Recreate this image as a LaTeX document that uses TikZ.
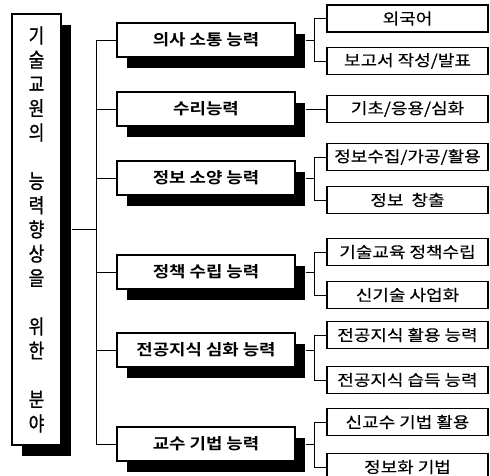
\documentclass[tikz,border=0pt]{standalone}
\usepackage{fontspec}
\setmainfont{Noto Sans CJK KR}
\newfontfamily\krnarrow[FakeStretch=0.85,FakeBold=1.0]{Noto Sans CJK KR}
\newfontfamily\krwide[FakeStretch=1.16,FakeBold=0.15]{Noto Sans CJK KR}
\newfontfamily\krwidebold[FakeStretch=1.15]{Noto Sans CJK KR Bold}
\usetikzlibrary{shadows}
\begin{document}
\begin{tikzpicture}[x=1pt,y=-1pt,
  lvbox/.style={draw,line width=1.3pt,fill=white,inner sep=0pt,
    minimum width=178pt,minimum height=34pt,
    font=\krwidebold\fontsize{15.5}{18}\selectfont,
    drop shadow={shadow xshift=10pt,shadow yshift=-11pt,fill=black,opacity=1}},
  subbox/.style={draw,line width=1.3pt,fill=white,inner sep=0pt,
    minimum width=161pt,minimum height=27pt,
    font=\krwide\fontsize{15.5}{18}\selectfont},
  conn/.style={line width=0.9pt}]
\useasboundingbox (0,0) rectangle (490,476);
\clip (0,0) rectangle (490,476);

\coordinate (trunk) at (96,0);
\coordinate (br) at (314,0);

\node[draw,line width=1.3pt,fill=white,minimum width=49pt,minimum height=431pt,inner sep=0pt,
  drop shadow={shadow xshift=10pt,shadow yshift=-11pt,fill=black,opacity=1},
  align=center,font=\krnarrow\fontsize{20}{24.25}\selectfont]
  (left) at (36.5,229.5) {기\\술\\교\\원\\의\\~\\능\\력\\향\\상\\을\\~\\위\\한\\~\\분\\야};

\node[lvbox] (b1) at (206,40) {의사 소통 능력};
\node[lvbox] (b2) at (206,109) {수리능력};
\node[lvbox] (b3) at (206,178) {정보 소양 능력};
\node[lvbox] (b4) at (206,272) {정책 수립 능력};
\node[lvbox] (b5) at (206,350) {전공지식 심화 능력};
\node[lvbox] (b6) at (206,444) {교수 기법 능력};

\node[subbox] (c1) at (407.5,18.5) {외국어};
\node[subbox] (c2) at (407.5,61) {보고서 작성/발표};
\node[subbox] (c3) at (407.5,109) {기초/응용/심화};
\node[subbox] (c4) at (407.5,157) {정보수집/가공/활용};
\node[subbox] (c5) at (407.5,200) {정보~~창출};
\node[subbox] (c6) at (407.5,252) {기술교육 정책수립};
\node[subbox] (c7) at (407.5,295) {신기술 사업화};
\node[subbox] (c8) at (407.5,335) {전공지식 활용 능력};
\node[subbox] (c9) at (407.5,380) {전공지식 습득 능력};
\node[subbox] (c10) at (407.5,422) {신교수 기법 활용};
\node[subbox] (c11) at (407.5,467) {정보화 기법};

\draw[conn] (left.east) ++(10,0) -- (left.east -| trunk);
\draw[conn] (b1.west) -- (b1.west -| trunk) -- (b6.west -| trunk) -- (b6.west);
\foreach \b in {b2,b3,b4,b5}{\draw[conn] (\b.west -| trunk) -- (\b.west);}

\draw[conn] (b1.east) ++(10,0) -- (b1.east -| br);
\draw[conn] (c1.west) -| (br |- c1.west) -- (br |- c2.west) -- (c2.west);
\draw[conn] (b2.east) ++(10,0) -- (c3.west);
\draw[conn] (b3.east) ++(10,0) -- (b3.east -| br);
\draw[conn] (c4.west) -- (br |- c4.west) -- (br |- c5.west) -- (c5.west);
\draw[conn] (b4.east) ++(10,0) -- (b4.east -| br);
\draw[conn] (c6.west) -- (br |- c6.west) -- (br |- c7.west) -- (c7.west);
\draw[conn] (b5.east) ++(10,0) -- (b5.east -| br);
\draw[conn] (c8.west) -- (br |- c8.west) -- (br |- c9.west) -- (c9.west);
\draw[conn] (b6.east) ++(10,0) -- (b6.east -| br);
\draw[conn] (c10.west) -- (br |- c10.west) -- (br |- c11.west) -- (c11.west);
\end{tikzpicture}
\end{document}
